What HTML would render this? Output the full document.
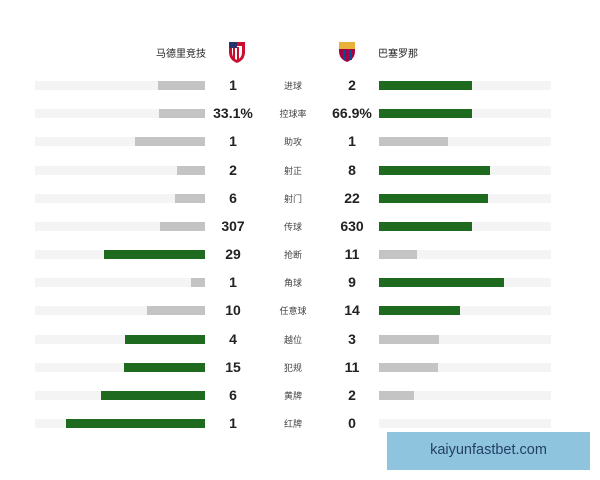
<!DOCTYPE html><html><head><meta charset="utf-8"><style>
body{margin:0;width:600px;height:480px;background:#fff;position:relative;overflow:hidden;font-family:"Liberation Sans","Noto Sans CJK SC",sans-serif}
.a{position:absolute}
.tr{position:absolute;height:9px;background:#f4f4f4}
.b{position:absolute;height:9px}
.g{background:#1e6a1e}.s{background:#c4c4c4}
.n{position:absolute;width:60px;text-align:center;font-size:14px;font-weight:bold;color:#222}
.l{position:absolute;width:60px;text-align:center;font-size:9px;color:#444}
</style></head><body>
<div class="a" style="left:140px;top:45px;width:66px;text-align:right;font-size:10px;color:#222">马德里竞技</div>
<svg class="a" style="left:228px;top:40px" width="18" height="24"><path d="M1 2h16v10q0 8-8 11q-8-3-8-11z" fill="#c8102e"/><path d="M4 6h10v6q0 6-5 8q-5-2-5-8z" fill="#fff"/><rect x="5" y="7" width="2" height="12" fill="#c8102e"/><rect x="9" y="7" width="2" height="13" fill="#c8102e"/><rect x="1" y="2" width="8" height="6" fill="#27346b"/></svg>
<svg class="a" style="left:338px;top:41px" width="18" height="22"><path d="M1 1h16v9q0 8-8 11q-8-3-8-11z" fill="#a50044"/><rect x="1" y="1" width="16" height="7" fill="#e8b23a"/><rect x="5" y="9" width="3" height="10" fill="#004d98"/><rect x="11" y="9" width="3" height="10" fill="#004d98"/></svg>
<div class="a" style="left:378px;top:45px;font-size:10px;color:#222">巴塞罗那</div>
<div id="rows"></div>
<div class="a" style="left:387px;top:432px;width:203px;height:38px;background:#8ec4dd;color:#243f66;font-size:14.5px;text-align:center;line-height:37px">kaiyunfastbet.com</div>
<script>
var d=[["1","进球","2",158,"s",472,"g"],["33.1%","控球率","66.9%",159,"s",472,"g"],["1","助攻","1",135,"s",448,"s"],["2","射正","8",177,"s",490,"g"],["6","射门","22",175,"s",488,"g"],["307","传球","630",160,"s",472,"g"],["29","抢断","11",104,"g",417,"s"],["1","角球","9",191,"s",504,"g"],["10","任意球","14",147,"s",460,"g"],["4","越位","3",125,"g",439,"s"],["15","犯规","11",124,"g",438,"s"],["6","黄牌","2",101,"g",414,"s"],["1","红牌","0",66,"g",379,"s"]];
var h="";d.forEach(function(r,i){var y=Math.round(85+i*28.17);
h+='<div class="tr" style="left:35px;width:170px;top:'+(y-4)+'px"></div><div class="tr" style="left:379px;width:172px;top:'+(y-4)+'px"></div>';
h+='<div class="b '+r[4]+'" style="left:'+r[3]+'px;width:'+(205-r[3])+'px;top:'+(y-4)+'px"></div>';
if(r[5]>379)h+='<div class="b '+r[6]+'" style="left:379px;width:'+(r[5]-379)+'px;top:'+(y-4)+'px"></div>';
h+='<div class="n" style="left:203px;top:'+(y-8)+'px">'+r[0]+'</div><div class="l" style="left:263px;top:'+(y-6)+'px">'+r[1]+'</div><div class="n" style="left:322px;top:'+(y-8)+'px">'+r[2]+'</div>';});
document.getElementById("rows").innerHTML=h;
</script></body></html>
